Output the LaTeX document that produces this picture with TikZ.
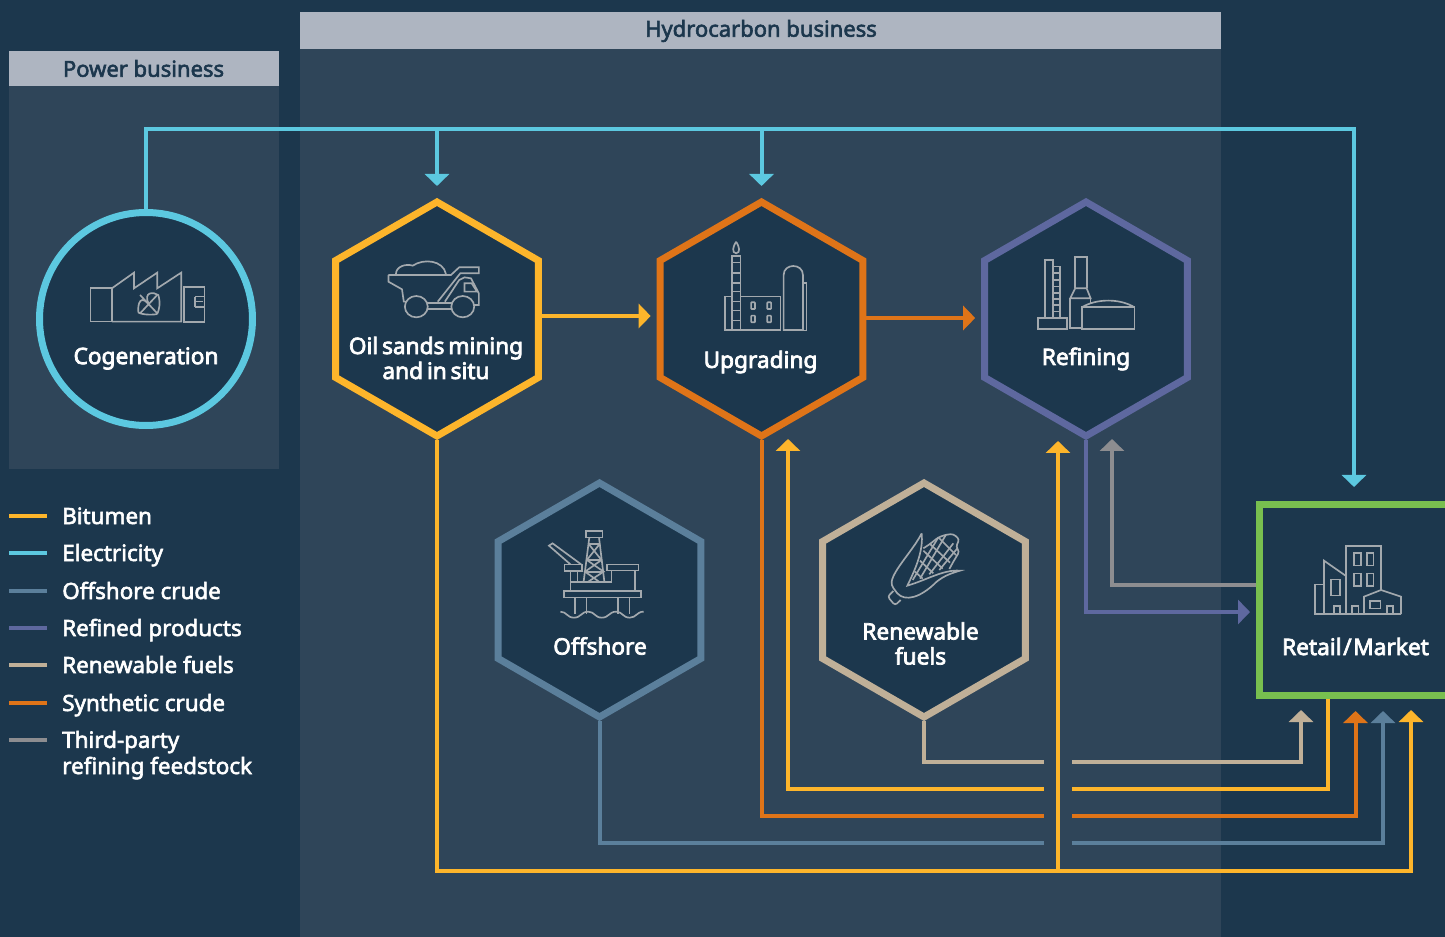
\documentclass[tikz,border=0pt]{standalone}
\usepackage{fontspec}
\setmainfont{Noto Sans}
\newfontfamily\namefont[FakeBold=3.2,WordSpace=0.65]{Noto Sans}
\newfontfamily\medfont[FakeBold=2.6]{Noto Sans}
\usetikzlibrary{arrows.meta,shapes.geometric}
\definecolor{bgdark}{HTML}{1C374D}
\definecolor{panel}{HTML}{2F4559}
\definecolor{headbar}{HTML}{AEB5C1}
\definecolor{bitumen}{HTML}{FDB52B}
\definecolor{electric}{HTML}{5CC8E0}
\definecolor{offcrude}{HTML}{5B7F9B}
\definecolor{refined}{HTML}{5E689F}
\definecolor{renew}{HTML}{C0B098}
\definecolor{syncrude}{HTML}{DF7418}
\definecolor{feedstock}{HTML}{8D8D90}
\definecolor{market}{HTML}{78BF4F}
\definecolor{iconline}{HTML}{A3A9AE}
\tikzset{
  hexnode/.style={regular polygon, regular polygon sides=6, shape border rotate=30,
    minimum size=175.5pt, inner sep=0pt, fill=bgdark, line width=5.25pt, draw=#1},
  namelabel/.style={text=white, align=center, inner sep=0pt, font=\fontsize{17}{18.7}\selectfont\namefont},
  headlabel/.style={text=bgdark, inner sep=0pt, font=\fontsize{16.5}{18}\selectfont\medfont},
  legendlabel/.style={text=white, align=left, anchor=base west, inner sep=0pt, font=\fontsize{16.8}{19.6}\selectfont\medfont},
  flow/.style={draw=#1, line width=3pt},
  flowtip/.style={draw=#1, line width=3pt, -{Triangle[length=9pt,width=18pt]}},
  icon/.style={draw=iconline, line width=1.25pt}
}
\begin{document}
\begin{tikzpicture}[x=0.75pt,y=-0.75pt]
\useasboundingbox (0,0) rectangle (1445,937);
\fill[bgdark] (0,0) rectangle (1445,937);
% panels
\fill[panel] (9,51) rectangle (279,469);
\fill[panel] (300,12) rectangle (1221,937);
\node[fill=headbar, minimum width=202.5pt, minimum height=26.25pt, inner sep=0pt] (powerbar) at (144,68.5) {};
\node[fill=headbar, minimum width=690.75pt, minimum height=27.75pt, inner sep=0pt] (hydrobar) at (760.5,30.5) {};
\node[headlabel] (powerhead) at (143.5,68.5) {Power business};
\node[headlabel] (hydrohead) at (761,31) {Hydrocarbon business};
% process nodes
\node[circle, draw=electric, fill=bgdark, line width=5.25pt, minimum size=159.75pt, inner sep=0pt] (cogen) at (146,319) {};
\node[hexnode=bitumen] (oil) at (437,319) {};
\node[hexnode=syncrude] (upg) at (761.5,319) {};
\node[hexnode=refined] (ref) at (1086,319) {};
\node[hexnode=offcrude] (off) at (599.5,600) {};
\node[hexnode=renew] (ren) at (924,600) {};
\node[rectangle, draw=market, fill=bgdark, line width=5.25pt, minimum width=141.75pt, minimum height=143.25pt, inner sep=0pt] (retail) at (1354,600) {};
% free ends
\coordinate (elecbus) at (0,129);
\coordinate (oil-elec) at (437,186);
\coordinate (upg-elec) at (761.5,186);
\coordinate (ret-elec) at (1354,487);
\coordinate (upg-bit) at (788,439);
\coordinate (ref-bit) at (1058,441);
\coordinate (ref-feed) at (1112,439);
\coordinate (bitjoin) at (1058,871);
\coordinate (ret-bitout) at (1328,699);
\coordinate (ret-feedout) at (1256,585);
\coordinate (ret-prod) at (1250,612);
\coordinate (ret-ren) at (1301,710);
\coordinate (ret-syn) at (1355.5,711);
\coordinate (ret-off) at (1383,711);
\coordinate (ret-bit) at (1411,710);
% connectors
\draw[flowtip=electric] (cogen.north) |- (elecbus -| ret-elec) -- (ret-elec);
\draw[flowtip=electric] (elecbus -| oil-elec) -- (oil-elec);
\draw[flowtip=electric] (elecbus -| upg-elec) -- (upg-elec);
\draw[flowtip=bitumen] ([yshift=2.25pt]oil.east) -- ([yshift=2.25pt,xshift=-4.5pt]upg.west);
\draw[flowtip=syncrude] ([yshift=0.75pt]upg.east) -- ([yshift=0.75pt,xshift=-4.5pt]ref.west);
\draw[flowtip=refined] (ref.south) |- (ret-prod);
\draw[flowtip=feedstock] (ret-feedout) -| (ref-feed);
\draw[flowtip=renew] (ren.south) -- ++(0,41) -| (ret-ren);
\draw[flowtip=bitumen] (ret-bitout) -- ++(0,90) -| (upg-bit);
\draw[flowtip=syncrude] (upg.south) -- ++(0,376) -| (ret-syn);
\draw[flowtip=offcrude] (off.south) -- ++(0,122) -| (ret-off);
\draw[flowtip=bitumen] (oil.south) -- ++(0,431) -| (ret-bit);
\node[fill=panel, minimum width=21pt, minimum height=75pt, inner sep=0pt] (gap) at (1058,801) {};
\draw[flowtip=bitumen] (bitjoin) -- (ref-bit);
% node names
\node[namelabel] (cogenlabel) at (146,358.5) {Cogeneration};
\node[namelabel] (oillabel) at (436,358) {Oil sands mining\\and in situ};
\node[namelabel] (upglabel) at (760.5,362) {Upgrading};
\node[namelabel] (reflabel) at (1086,359) {Refining};
\node[namelabel] (offlabel) at (600,646) {Offshore};
\node[namelabel] (renlabel) at (920.5,643.5) {Renewable\\fuels};
\node[namelabel] (retlabel) at (1355.5,646.5) {Retail\kern1.2pt/\kern1.2ptMarket};
% legend
\foreach \ypos/\col/\txt in {516/bitumen/Bitumen, 553/electric/Electricity, 591/offcrude/Offshore crude, 628/refined/Refined products, 665/renew/Renewable fuels, 703/syncrude/Synthetic crude}{
  \draw[flow=\col] (9,\ypos) -- (47,\ypos);
  \node[legendlabel] (legend\ypos) at (62,\ypos+8) {\txt};
}
\draw[flow=feedstock] (9,740) -- (47,740);
\node[legendlabel] (legend740) at (62,774) {Third-party\\refining feedstock};
% cogeneration icon
\begin{scope}[icon, shift={(0,200)}, x=0.268pt, y=-0.25pt]
\draw (253,265) rectangle (313,365);
\draw (313,265) -- (375,218) -- (375,265) -- (440,218) -- (440,265) -- (507,218) -- (507,365) -- (313,365);
\draw (515,262) rectangle (572,367);
\draw (545,290) -- (545,322) (545,290) -- (572,290) (545,322) -- (572,322) (545,305) -- (568,305);
\draw (392,285) -- (440,340) (440,285) -- (392,340);
\draw (416,312) .. controls (385,275) and (385,335) .. (388,338) .. controls (400,345) and (430,345) .. (440,342);
\draw (416,312) .. controls (400,275) and (430,275) .. (443,285) .. controls (450,310) and (445,330) .. (440,342);
\end{scope}
% truck icon
\begin{scope}[icon, shift={(0,200)}, x=0.268pt, y=-0.25pt]
\draw (1087,225) -- (1262,225) -- (1285,202) -- (1340,202) -- (1340,220) -- (1288,220) -- (1225,305);
\draw (1087,225) -- (1087,245) -- (1125,268) -- (1130,305) -- (1138,305);
\draw (1108,222) .. controls (1108,200) and (1135,190) .. (1155,197) .. controls (1185,175) and (1240,180) .. (1248,222);
\draw (1165,320) circle[radius=32] (1295,320) circle[radius=32];
\draw (1195,310) -- (1265,310) (1195,328) -- (1265,328);
\draw (1245,305) -- (1285,240) -- (1300,232) -- (1318,235) -- (1340,280) -- (1340,315) -- (1325,315);
\draw (1300,250) -- (1320,250) -- (1335,275) -- (1300,275) -- cycle;
\end{scope}
% upgrading icon
\begin{scope}[icon, shift={(650,190)}, x=0.268pt, y=-0.25pt]
\draw (241,155) .. controls (232,170) and (228,188) .. (241,190) .. controls (254,188) and (250,170) .. (241,155);
\draw (230,198) rectangle (253,420);
\foreach \yy in {218,250,280,305,335,362,392}{\draw (230,\yy) -- (253,\yy);}
\draw (230,320) -- (210,320) -- (210,421) -- (365,421) -- (365,320) -- (253,320);
\foreach \xx in {283,328}{\foreach \yy in {337,377}{\draw[rounded corners=0.5pt] (\xx,\yy) rectangle (\xx+11,\yy+20);}}
\draw (374,420) -- (374,255) .. controls (374,219) and (428,219) .. (428,255) -- (428,420) -- cycle;
\draw (428,280) -- (438,280) -- (438,422) -- (428,422);
\end{scope}
% refining icon
\begin{scope}[icon, shift={(650,190)}, x=0.268pt, y=-0.25pt]
\draw (1105,385) -- (1105,210) -- (1128,210) -- (1128,385);
\draw (1128,230) -- (1148,230) -- (1148,385);
\foreach \yy in {250,270,290,310,328,346,365}{\draw (1128,\yy) -- (1148,\yy);}
\draw (1085,385) rectangle (1167,417);
\draw (1190,295) -- (1190,202) -- (1222,202) -- (1222,295);
\draw (1190,295) -- (1222,295) -- (1233,325) -- (1176,325) -- cycle;
\draw (1208,415) -- (1176,415) -- (1176,325) (1233,325) -- (1233,340);
\draw (1208,352) rectangle (1356,417);
\draw (1208,352) .. controls (1250,325) and (1315,325) .. (1356,352);
\end{scope}
% offshore icon
\begin{scope}[icon, shift={(490,480)}, x=0.268pt, y=-0.25pt]
\draw (268,153) rectangle (315,172);
\draw (278,172) -- (262,305) (305,172) -- (320,305);
\draw (276,192) -- (307,192) (271,240) -- (312,240) (265,275) -- (318,275);
\draw (276,192) -- (312,240) -- (266,275) -- (305,305) (307,192) -- (271,240) -- (318,275) -- (275,305);
\draw (255,253) -- (175,190) -- (165,197) -- (225,253);
\draw (208,253) rectangle (257,272);
\draw (327,253) rectangle (416,271);
\draw (225,272) -- (225,333) (245,272) -- (245,305) (225,305) -- (340,305) -- (340,271) (405,271) -- (405,333);
\draw (207,333) rectangle (422,352);
\foreach \xx in {238,270,358,390}{\draw (\xx,352) -- (\xx,402);}
\draw (197,395) .. controls (215,395) and (215,413) .. (235,413) .. controls (255,413) and (255,395) .. (275,395) .. controls (293,395) and (293,413) .. (313,413) .. controls (333,413) and (333,395) .. (353,395) .. controls (371,395) and (371,413) .. (391,413) .. controls (410,413) and (410,395) .. (430,395);
\end{scope}
% corn icon
\begin{scope}[icon, shift={(870,520)}, x=0.25pt, y=-0.25pt]
\draw (155,40) .. controls (130,90) and (70,150) .. (65,185) .. controls (63,200) and (75,210) .. (82,220) .. controls (105,245) and (150,235) .. (200,185) .. controls (225,165) and (250,158) .. (270,152) .. controls (220,148) and (170,180) .. (112,197) .. controls (140,140) and (160,90) .. (155,40);
\draw[rounded corners=2pt] (70,213) -- (53,230) -- (75,256) -- (92,240);
\draw[rounded corners=2pt] (160,85) -- (180,72) -- (205,52) -- (228,44) -- (250,42) -- (268,58) -- (258,80) -- (268,95) -- (250,125) -- (238,147);
\draw (205,52) -- (258,105) (180,72) -- (240,128) (160,92) -- (218,146) (150,122) -- (190,160) (135,155) -- (158,176);
\draw (128,180) -- (205,52) (150,176) -- (228,44) (178,163) -- (250,70) (208,150) -- (262,85);
\end{scope}
% retail icon
\begin{scope}[icon, shift={(1030,490)}, x=0.25pt, y=-0.25pt]
\draw (948,372) -- (948,167) -- (1053,167) -- (1053,300);
\foreach \xx in {972,1010}{\foreach \yy in {188,250}{\draw (\xx,\yy) rectangle (\xx+20,\yy+38);}}
\draw (882,372) -- (882,212) -- (948,258);
\draw (882,283) -- (855,283) -- (855,372) -- (1113,372);
\draw (903,268) rectangle (930,316);
\draw (912,372) -- (912,347) -- (930,347) -- (930,372);
\draw (966,372) -- (966,347) -- (985,347) -- (985,372);
\draw (1002,372) -- (1002,320) -- (1053,300) -- (1113,320) -- (1113,372);
\draw (1019,332) rectangle (1051,355);
\draw (1070,372) -- (1070,347) -- (1088,347) -- (1088,372);
\end{scope}
\end{tikzpicture}
\end{document}
